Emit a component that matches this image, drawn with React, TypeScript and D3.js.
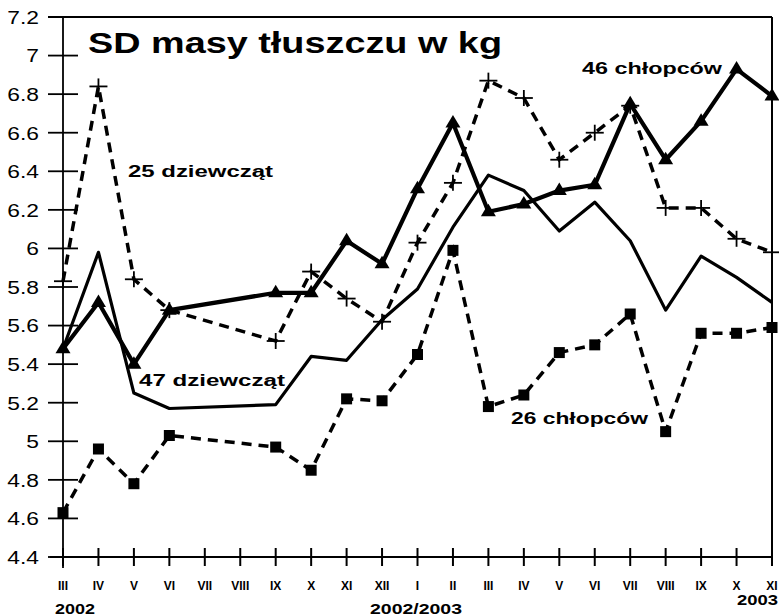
import * as d3 from "d3";
import React from "react";

// months on the x axis (VII, VIII 2002 have no measurement)
const months = ["III", "IV", "V", "VI", "VII", "VIII", "IX", "X", "XI", "XII", "I", "II", "III", "IV", "V", "VI", "VII", "VIII", "IX", "X", "XI"];
const yTickLabels = ["4.4", "4.6", "4.8", "5", "5.2", "5.4", "5.6", "5.8", "6", "6.2", "6.4", "6.6", "6.8", "7", "7.2"];

const boys46 = [5.48, 5.72, 5.4, 5.68, null, null, 5.77, 5.77, 6.04, 5.92, 6.31, 6.65, 6.19, 6.23, 6.3, 6.33, 6.75, 6.46, 6.66, 6.93, 6.79];
const girls47 = [5.48, 5.98, 5.25, 5.17, null, null, 5.19, 5.44, 5.42, 5.63, 5.79, 6.11, 6.38, 6.3, 6.09, 6.24, 6.04, 5.68, 5.96, 5.85, 5.72];
const girls25 = [5.83, 6.84, 5.84, 5.68, null, null, 5.52, 5.88, 5.74, 5.62, 6.03, 6.34, 6.87, 6.78, 6.46, 6.6, 6.74, 6.21, 6.21, 6.05, 5.98];
const boys26 = [4.63, 4.96, 4.78, 5.03, null, null, 4.97, 4.85, 5.22, 5.21, 5.45, 5.99, 5.18, 5.24, 5.46, 5.5, 5.66, 5.05, 5.56, 5.56, 5.59];

const FONT = "'Liberation Sans', Arial, Helvetica, sans-serif";

export default function App() {
  const width = 779;
  const height = 616;
  const left = 63, right = 772, top = 17, bottom = 557;

  const x = d3.scalePoint<number>().domain(months.map((_, i) => i)).range([left, right]);
  const y = d3.scaleLinear().domain([4.4, 7.2]).range([bottom, top]);

  const pts = (vals: (number | null)[]) =>
    vals.map((v, i) => [i, v] as [number, number | null]).filter((d) => d[1] != null) as [number, number][];

  const line = d3
    .line<[number, number]>()
    .x((d) => x(d[0]) as number)
    .y((d) => y(d[1]));

  const triangle = "M0,-8L7.5,4.5L-7.5,4.5Z";

  return (
    <svg width={width} height={height} style={{ position: "absolute", left: 0, top: 0, background: "#fff" }}>
      {/* frame and axes */}
      <g stroke="#000" fill="none">
        <line x1={48} x2={right} y1={top} y2={top} strokeWidth={1.8} />
        <line x1={right} x2={right} y1={top} y2={bottom} strokeWidth={2} />
        <line x1={left} x2={left} y1={top} y2={568} strokeWidth={1.8} />
        <line x1={50} x2={right} y1={bottom} y2={bottom} strokeWidth={1.8} />
        {yTickLabels.map((t) => (
          <line key={t} x1={48} x2={78} y1={y(+t)} y2={y(+t)} strokeWidth={1.8} />
        ))}
        {months.map((m, i) => (
          <line key={i} x1={x(i)} x2={x(i)} y1={bottom - 9} y2={bottom + 9} strokeWidth={2} />
        ))}
      </g>

      {/* y tick labels */}
      <g fontFamily={FONT} fontSize={19} fill="#000">
        {yTickLabels.map((t) => (
          <text key={t} transform={`translate(39,${y(+t)}) scale(1.2,1)`} textAnchor="end" dy="0.36em">
            {t}
          </text>
        ))}
      </g>

      {/* x tick labels */}
      <g fontFamily={FONT} fontSize={12} fontWeight="bold" fill="#000">
        {months.map((m, i) => (
          <text key={i} x={x(i)} y={590} textAnchor="middle">
            {m}
          </text>
        ))}
      </g>
      <g fontFamily={FONT} fontSize={14} fontWeight="bold" fill="#000">
        <text x={55} y={614} textLength={40} lengthAdjust="spacingAndGlyphs">2002</text>
        <text x={370} y={614} textLength={92} lengthAdjust="spacingAndGlyphs">2002/2003</text>
        <text x={737} y={605} textLength={41} lengthAdjust="spacingAndGlyphs">2003</text>
      </g>

      {/* series */}
      <path d={line(pts(girls47)) || ""} fill="none" stroke="#000" strokeWidth={3.2} strokeLinejoin="round" />
      <path d={line(pts(boys26)) || ""} fill="none" stroke="#000" strokeWidth={3.5} strokeDasharray="10,7" />
      <path d={line(pts(girls25)) || ""} fill="none" stroke="#000" strokeWidth={3.5} strokeDasharray="10,7" />
      <path d={line(pts(boys46)) || ""} fill="none" stroke="#000" strokeWidth={4.2} strokeLinejoin="round" />

      {pts(boys26).map((d) => (
        <rect key={d[0]} x={(x(d[0]) as number) - 5.5} y={y(d[1]) - 5.5} width={11} height={11} fill="#000" />
      ))}
      {pts(girls25).map((d) => (
        <g key={d[0]} transform={`translate(${x(d[0])},${y(d[1])})`} stroke="#000" strokeWidth={1.8}>
          <line x1={-9} x2={9} y1={0} y2={0} />
          <line x1={0} x2={0} y1={-8} y2={8} />
        </g>
      ))}
      {pts(boys46).map((d) => (
        <path key={d[0]} d={triangle} transform={`translate(${x(d[0])},${y(d[1])})`} fill="#000" />
      ))}

      {/* title and series labels */}
      <g fontFamily={FONT} fontWeight="bold" fill="#000">
        <text x={88} y={53} fontSize={29} textLength={414} lengthAdjust="spacingAndGlyphs">SD masy tłuszczu w kg</text>
        <text x={582} y={74} fontSize={17} textLength={140} lengthAdjust="spacingAndGlyphs">46 chłopców</text>
        <text x={128} y={177} fontSize={17} textLength={145} lengthAdjust="spacingAndGlyphs">25 dziewcząt</text>
        <text x={139} y={386} fontSize={17} textLength={146} lengthAdjust="spacingAndGlyphs">47 dziewcząt</text>
        <text x={511} y={424} fontSize={17} textLength={137} lengthAdjust="spacingAndGlyphs">26 chłopców</text>
      </g>
    </svg>
  );
}
